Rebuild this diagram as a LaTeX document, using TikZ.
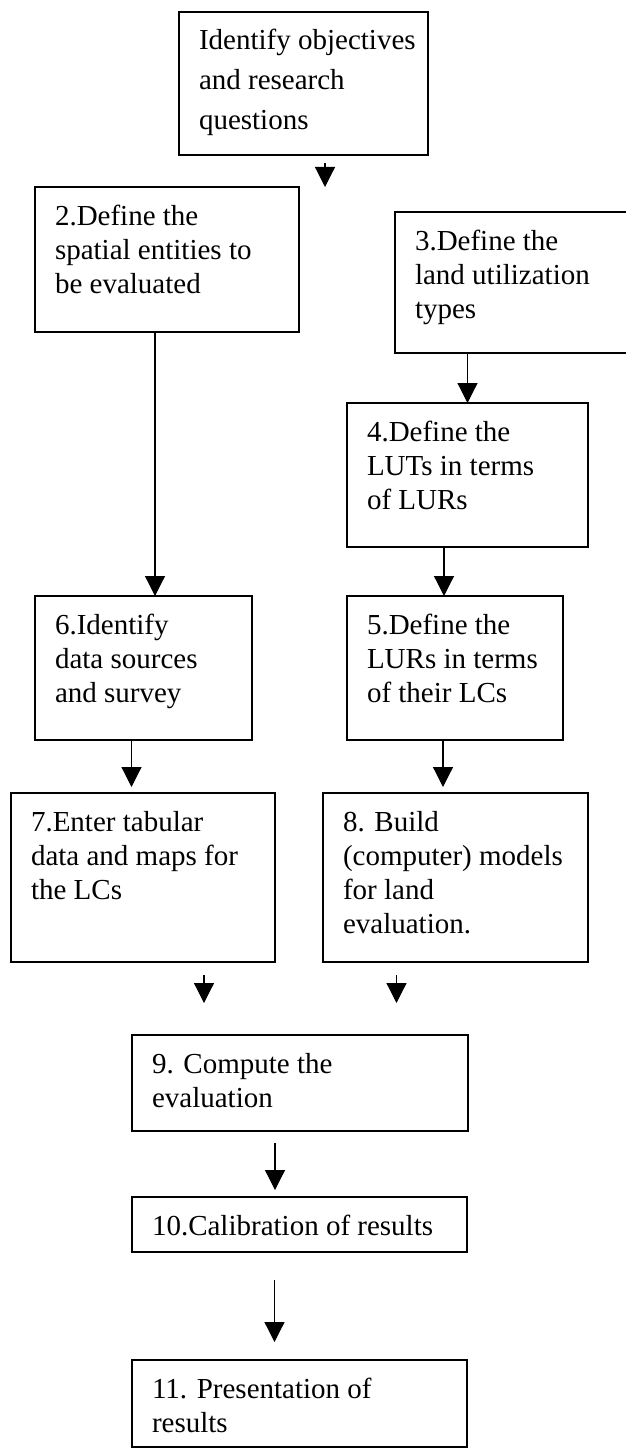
\documentclass[tikz,border=0pt]{standalone}
\usepackage{fontspec}
\setmainfont{Liberation Serif}
\usetikzlibrary{arrows.meta}
\newcommand{\boxtext}[3]{\parbox[t][\dimexpr#2pt-30pt\relax][t]{\dimexpr#1pt-40pt\relax}{\raggedright\rule{0pt}{23pt}#3}}

\begin{document}
\begin{tikzpicture}[x=1pt, y=-1pt,
    arrow/.style = {line width=1.2pt, -{Triangle[length=20pt,width=20pt]}},
    stepbox/.style = {draw, line width=1.7pt, anchor=north west, inner xsep=20pt, inner ysep=15pt, outer sep=0pt, font=\fontsize{29}{34}\selectfont}]
    \useasboundingbox (0,0) rectangle (625,1450);

    % Top
    \node [stepbox, font=\fontsize{29}{40}\selectfont] (objectives) at (179,12) {\boxtext{249}{143}{\mbox{Identify objectives}\\and research\\questions}};
    \coordinate (tip1) at (325,187);
    \draw[arrow, shorten <=8pt] (objectives.south -| tip1) -- (tip1);

    % Left column
    \node [stepbox] (entities) at (35,187)  {\boxtext{264}{145}{2.Define the\\spatial entities to\\be evaluated}};
    \node [stepbox] (sources)  at (35,596)  {\boxtext{217}{144}{6.Identify\\data sources\\and survey}};
    \node [stepbox] (tabular)  at (11,793)  {\boxtext{264}{169}{7.Enter tabular\\data and maps for\\the LCs}};

    \draw[arrow] ([xshift=-12pt]entities.south) -- ([xshift=-12pt]entities.south |- sources.north);
    \draw[arrow, shorten >=6pt] ([xshift=-12pt]sources.south) -- ([xshift=-12pt]sources.south |- tabular.north);

    % Right column
    \node [stepbox] (lut)    at (395,212) {\boxtext{240}{141}{3.Define the\\land utilization\\types}};
    \node [stepbox] (lutlur) at (347,403) {\boxtext{241}{144}{4.Define the\\LUTs in terms\\of LURs}};
    \node [stepbox] (lurlc)  at (347,596) {\boxtext{216}{144}{5.Define the\\LURs in terms\\of their LCs}};
    \node [stepbox] (models) at (323,793) {\boxtext{265}{169}{8. Build\\(computer) models\\for land\\evaluation.}};

    \draw[arrow] (lut.south -| lutlur.north) -- (lutlur.north);
    \draw[arrow] ([xshift=-11pt]lurlc.north |- lutlur.south) -- ([xshift=-11pt]lurlc.north);
    \draw[arrow, shorten >=6pt] ([xshift=-12pt]lurlc.south) -- ([xshift=-12pt]lurlc.south |- models.north);

    % Bottom
    \node [stepbox] (compute) at (132,1035) {\boxtext{336}{96}{9. Compute the\\evaluation}};
    \node [stepbox] (calib)   at (132,1197) {\boxtext{335}{55}{10.Calibration of results}};
    \node [stepbox] (present) at (132,1360) {\boxtext{335}{87}{11. Presentation of\\results}};

    \draw[arrow, shorten <=13pt, shorten >=32pt] ([xshift=61pt]tabular.south) -- ([xshift=61pt]tabular.south |- compute.north);
    \draw[arrow, shorten <=13pt, shorten >=32pt] ([xshift=-59pt]models.south) -- ([xshift=-59pt]models.south |- compute.north);
    \draw[arrow, shorten <=12pt, shorten >=7pt] ([xshift=-25pt]compute.south) -- ([xshift=-25pt]compute.south |- calib.north);
    \draw[arrow, shorten <=28pt, shorten >=18pt] ([xshift=-25pt]calib.south) -- ([xshift=-25pt]calib.south |- present.north);
\end{tikzpicture}
\end{document}
